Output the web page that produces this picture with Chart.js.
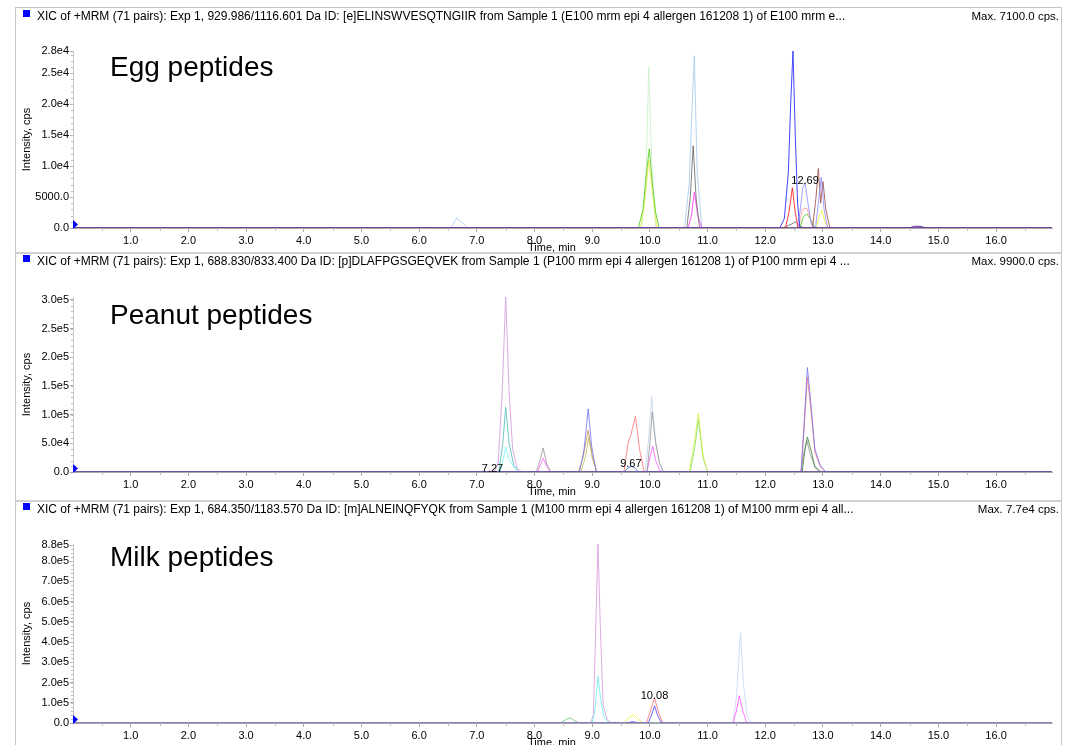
<!DOCTYPE html>
<html>
<head>
<meta charset="utf-8">
<script src="https://cdn.jsdelivr.net/npm/chart.js@4.4.1/dist/chart.umd.min.js"></script>
<style>
  body { margin: 0; background: #fff; width: 1078px; height: 745px; overflow: hidden; }
  .panel { position: absolute; left: 0; width: 1078px; }
  canvas { display: block; }
</style>
</head>
<body>
<div class="panel" style="top:0"><canvas id="egg" width="1078" height="252"></canvas></div>
<div class="panel" style="top:252px"><canvas id="peanut" width="1078" height="248"></canvas></div>
<div class="panel" style="top:500px"><canvas id="milk" width="1078" height="245"></canvas></div>
<script>
// time axis (min)
const timeMax = 16.97;
const timeTicks = [1, 2, 3, 4, 5, 6, 7, 8, 9, 10, 11, 12, 13, 14, 15, 16];

// ---- Egg peptides: [time, cps] ----
const eggPurple  = [[0,0],[14.5,0],[14.58,300],[14.7,250],[14.78,0],[16.97,0]];
const eggBlue    = [[0,0],[12.25,0],[12.33,1500],[12.4,9000],[12.44,20000],[12.48,28600],[12.52,15000],[12.56,4000],[12.6,0],[16.97,0]];
const eggLavender= [[0,0],[12.55,0],[12.6,2500],[12.65,6500],[12.69,7300],[12.74,4000],[12.8,500],[12.87,0],[12.92,4000],[12.97,8200],[13.02,3000],[13.08,0],[16.97,0]];
const eggRed     = [[0,0],[12.35,0],[12.41,2500],[12.47,6500],[12.52,2500],[12.57,0],[16.97,0]];
const eggSalmon  = [[0,0],[12.58,0],[12.64,3000],[12.72,3200],[12.78,1500],[12.84,0],[16.97,0]];
const eggBrown   = [[0,0],[12.82,0],[12.88,5000],[12.92,9600],[12.96,4000],[13.0,7500],[13.05,3000],[13.12,0],[16.97,0]];
const eggGreen   = [[0,0],[9.8,0],[9.88,3000],[9.94,9000],[9.99,12800],[10.04,7500],[10.1,2500],[10.16,0],[12.6,0],[12.66,1800],[12.72,2300],[12.8,1200],[12.86,0],[16.97,0]];
const eggMint    = [[0,0],[9.86,0],[9.93,7000],[9.98,26000],[10.03,11000],[10.1,0],[16.97,0]];
const eggYellow  = [[0,0],[9.84,0],[9.92,5000],[9.98,11000],[10.04,6000],[10.12,0],[12.88,0],[12.94,2000],[12.98,2900],[13.04,800],[13.1,0],[16.97,0]];
const eggSky     = [[0,0],[6.55,0],[6.65,1600],[6.75,800],[6.85,0],[10.6,0],[10.68,7000],[10.73,19000],[10.77,27800],[10.82,9000],[10.9,0],[16.97,0]];
const eggGray    = [[0,0],[10.64,0],[10.7,5000],[10.75,13300],[10.8,5000],[10.86,0],[12.3,0],[12.45,600],[12.52,1000],[12.6,300],[12.68,0],[16.97,0]];
const eggMagenta = [[0,0],[10.66,0],[10.72,2000],[10.77,5800],[10.83,2000],[10.9,0],[16.97,0]];
const eggTicks   = [0, 5000, 10000, 15000, 20000, 25000, 28600];
const eggLabels  = ['0.0', '5000.0', '1.0e4', '1.5e4', '2.0e4', '2.5e4', '2.8e4'];
const eggNotes   = [[12.69, 7300]];

// ---- Peanut peptides ----
const pnutPurple = [[0,0],[7.22,0],[7.27,1500],[7.32,0],[16.97,0]];
const pnutOrchid = [[0,0],[7.3,0],[7.37,15000],[7.44,140000],[7.5,305000],[7.56,140000],[7.62,40000],[7.7,6000],[7.78,0],[16.97,0]];
const pnutTeal   = [[0,0],[7.38,0],[7.45,50000],[7.5,113000],[7.56,50000],[7.64,12000],[7.72,0],[16.97,0]];
const pnutCyan   = [[0,0],[7.4,0],[7.46,22000],[7.5,44000],[7.56,22000],[7.66,6000],[7.74,0],[16.97,0]];
const pnutGray   = [[0,0],[8.03,0],[8.1,22000],[8.15,42000],[8.21,15000],[8.28,0],[9.95,0],[10.0,50000],[10.04,105000],[10.1,50000],[10.17,15000],[10.24,0],[12.62,0],[12.66,30000],[12.72,55000],[12.78,30000],[12.86,10000],[12.98,0],[16.97,0]];
const pnutMagenta= [[0,0],[8.05,0],[8.1,12000],[8.15,24000],[8.22,8000],[8.28,0],[9.95,0],[10.0,25000],[10.05,45000],[10.1,20000],[10.18,0],[16.97,0]];
const pnutBlue   = [[0,0],[8.78,0],[8.86,40000],[8.93,110000],[8.99,45000],[9.07,0],[12.62,0],[12.67,80000],[12.73,182000],[12.79,120000],[12.86,40000],[12.95,12000],[13.05,0],[16.97,0]];
const pnutTan    = [[0,0],[8.76,0],[8.84,25000],[8.93,73000],[9.0,30000],[9.08,0],[16.97,0]];
const pnutOlive  = [[0,0],[8.8,0],[8.88,25000],[8.94,60000],[9.0,25000],[9.08,0],[16.97,0]];
const pnutRed    = [[0,0],[9.55,0],[9.62,50000],[9.67,65000],[9.75,97000],[9.82,40000],[9.9,0],[12.62,0],[12.67,70000],[12.73,165000],[12.79,110000],[12.86,35000],[12.96,8000],[13.05,0],[16.97,0]];
const pnutSteel  = [[0,0],[9.55,0],[9.62,7000],[9.67,10000],[9.73,8000],[9.8,0],[16.97,0]];
const pnutIce    = [[0,0],[9.92,0],[9.98,60000],[10.03,132000],[10.08,70000],[10.15,20000],[10.22,0],[16.97,0]];
const pnutLime   = [[0,0],[10.68,0],[10.77,50000],[10.84,102000],[10.92,30000],[11.0,0],[16.97,0]];
const pnutGreen  = [[0,0],[10.7,0],[10.78,45000],[10.84,90000],[10.92,25000],[11.0,0],[16.97,0]];
const pnutForest = [[0,0],[12.64,0],[12.69,40000],[12.73,61000],[12.8,35000],[12.86,8000],[12.95,0],[16.97,0]];
const pnutTicks  = [0, 50000, 100000, 150000, 200000, 250000, 300000];
const pnutLabels = ['0.0', '5.0e4', '1.0e5', '1.5e5', '2.0e5', '2.5e5', '3.0e5'];
const pnutNotes  = [[7.27, 1500], [9.67, 10000]];

// ---- Milk peptides ----
const milkBase   = [[0,0],[9.35,0],[9.4,3000],[9.45,0],[16.97,0]];
const milkPink   = [[0,0],[8.97,0],[9.02,40000],[9.06,450000],[9.1,885000],[9.14,480000],[9.19,90000],[9.26,15000],[9.34,0],[16.97,0]];
const milkCyan   = [[0,0],[9.0,0],[9.05,70000],[9.1,230000],[9.15,110000],[9.21,25000],[9.3,0],[16.97,0]];
const milkGreen  = [[0,0],[8.45,0],[8.55,18000],[8.62,25000],[8.7,10000],[8.78,0],[16.97,0]];
const milkYellow = [[0,0],[9.55,0],[9.64,28000],[9.72,40000],[9.8,18000],[9.88,0],[16.97,0]];
const milkRed    = [[0,0],[9.94,0],[10.01,60000],[10.08,125000],[10.14,60000],[10.22,0],[16.97,0]];
const milkBlue   = [[0,0],[9.6,0],[9.7,7000],[9.8,0],[9.97,0],[10.03,40000],[10.08,85000],[10.13,40000],[10.2,0],[16.97,0]];
const milkIce    = [[0,0],[11.44,0],[11.5,130000],[11.57,448000],[11.62,200000],[11.68,40000],[11.75,0],[16.97,0]];
const milkMagenta= [[0,0],[11.44,0],[11.5,60000],[11.55,135000],[11.61,60000],[11.68,0],[16.97,0]];
const milkTicks  = [0, 100000, 200000, 300000, 400000, 500000, 600000, 700000, 800000, 880000];
const milkLabels = ['0.0', '1.0e5', '2.0e5', '3.0e5', '4.0e5', '5.0e5', '6.0e5', '7.0e5', '8.0e5', '8.8e5'];
const milkNotes  = [[10.08, 125000]];

const FONT = '"Liberation Sans", Arial, sans-serif';

const trace = (data, color) => ({
    data: data.map(([x, y]) => ({ x, y })),
    borderColor: color,
    borderWidth: 1,
    borderJoinStyle: 'round',
    pointRadius: 0,
    tension: 0,
    fill: false
});

// frame, header, big label, peak labels, minor ticks, blue marker
const panelDecor = {
    id: 'panelDecor',
    afterDraw(chart, args, o) {
        const { ctx, chartArea: a, scales: { x, y } } = chart;
        ctx.save();
        ctx.strokeStyle = '#c4c4c4';
        ctx.lineWidth = 1;
        ctx.beginPath();
        ctx.moveTo(15.5, o.frameTop); ctx.lineTo(15.5, chart.height);
        ctx.moveTo(1061.5, o.frameTop); ctx.lineTo(1061.5, chart.height);
        ctx.stroke();
        if (o.separator) {
            ctx.fillStyle = '#d0d0d0';
            ctx.fillRect(15, 0, 1047, 2);
        } else {
            ctx.beginPath();
            ctx.moveTo(15, o.frameTop + 0.5); ctx.lineTo(1062, o.frameTop + 0.5);
            ctx.stroke();
        }

        // header
        ctx.fillStyle = '#0000ff';
        ctx.fillRect(23, o.headerY - 7, 7, 7);
        ctx.fillStyle = '#000';
        ctx.font = '12px ' + FONT;
        ctx.textBaseline = 'middle';
        ctx.textAlign = 'left';
        ctx.fillText(o.header, 37, o.headerY);
        ctx.font = '11.5px ' + FONT;
        ctx.textAlign = 'right';
        ctx.fillText(o.maxText, 1059, o.headerY);

        // big label
        ctx.textAlign = 'left';
        ctx.font = '28px ' + FONT;
        ctx.fillText(o.title, 110, o.titleY);

        // peak labels
        ctx.font = '11px ' + FONT;
        ctx.textAlign = 'center';
        ctx.textBaseline = 'alphabetic';
        o.notes.forEach(([t, v]) => {
            ctx.fillText(t.toFixed(2), x.getPixelForValue(t), y.getPixelForValue(v) + 1);
        });

        // x title
        ctx.textBaseline = 'middle';
        ctx.fillText('Time, min', 552, a.bottom + 20);

        // minor ticks
        ctx.strokeStyle = '#bcbcbc';
        ctx.beginPath();
        for (let t = 0.5; t < timeMax; t += 1) {
            const px = Math.round(x.getPixelForValue(t)) + 0.5;
            ctx.moveTo(px, a.bottom); ctx.lineTo(px, a.bottom + 3);
        }
        for (let v = o.yMinor; v < y.max; v += o.yMinor) {
            const py = Math.round(y.getPixelForValue(v)) + 0.5;
            ctx.moveTo(a.left - 2, py); ctx.lineTo(a.left, py);
        }
        ctx.stroke();

        // start marker
        ctx.fillStyle = '#0000ff';
        ctx.beginPath();
        ctx.moveTo(a.left, a.bottom - 8);
        ctx.lineTo(a.left + 5, a.bottom - 3.5);
        ctx.lineTo(a.left, a.bottom + 1);
        ctx.closePath();
        ctx.fill();
        ctx.restore();
    }
};

function makeChart(id, p) {
    return new Chart(document.getElementById(id), {
        type: 'line',
        data: { datasets: p.datasets },
        options: {
            responsive: false,
            animation: false,
            events: [],
            layout: { padding: { top: p.top, right: 26, left: 0, bottom: 0 } },
            scales: {
                x: {
                    type: 'linear',
                    min: 0,
                    max: timeMax,
                    afterFit: s => { s.height = p.xHeight; },
                    afterBuildTicks: s => { s.ticks = timeTicks.map(v => ({ value: v })); },
                    ticks: {
                        callback: v => v.toFixed(1),
                        autoSkip: false,
                        maxRotation: 0,
                        padding: 2,
                        color: '#000',
                        font: { family: FONT, size: 11 }
                    },
                    grid: { drawOnChartArea: false, tickLength: 4, tickColor: '#a8a8a8' },
                    border: { color: '#a8a8a8' }
                },
                y: {
                    type: 'linear',
                    min: 0,
                    max: p.yMax,
                    afterFit: s => { s.width = 73; },
                    afterBuildTicks: s => { s.ticks = p.yTicks.map(v => ({ value: v })); },
                    ticks: {
                        callback: (v, i) => p.yLabels[i],
                        autoSkip: false,
                        padding: 1,
                        color: '#000',
                        font: { family: FONT, size: 11 }
                    },
                    grid: { drawOnChartArea: false, tickLength: 3, tickColor: '#a8a8a8' },
                    border: { color: '#c8c8c8' },
                    title: {
                        display: true,
                        text: 'Intensity, cps',
                        color: '#000',
                        font: { family: FONT, size: 11 },
                        padding: { top: 20, bottom: 0 }
                    }
                }
            },
            plugins: {
                legend: { display: false },
                tooltip: { enabled: false },
                panelDecor: p.decor
            }
        },
        plugins: [panelDecor]
    });
}

makeChart('egg', {
    top: 51, xHeight: 24, yMax: 28600, yTicks: eggTicks, yLabels: eggLabels,
    datasets: [
        trace(eggPurple, '#5a3590'),
        trace(eggBlue, 'rgba(50,50,255,0.9)'),
        trace(eggRed, 'rgba(255,40,40,0.9)'),
        trace(eggLavender, 'rgba(130,130,255,0.75)'),
        trace(eggBrown, 'rgba(160,80,80,0.85)'),
        trace(eggSalmon, 'rgba(255,150,150,0.75)'),
        trace(eggGreen, 'rgba(90,210,40,0.9)'),
        trace(eggYellow, 'rgba(235,235,60,0.8)'),
        trace(eggMint, 'rgba(205,240,205,0.9)'),
        trace(eggGray, 'rgba(100,100,100,0.8)'),
        trace(eggMagenta, 'rgba(255,60,255,0.85)'),
        trace(eggSky, 'rgba(165,205,240,0.85)')
    ],
    decor: {
        frameTop: 7, separator: false, headerY: 17, yMinor: 1000, notes: eggNotes,
        title: 'Egg peptides', titleY: 68,
        header: 'XIC of +MRM (71 pairs): Exp 1, 929.986/1116.601 Da ID: [e]ELINSWVESQTNGIIR from Sample 1 (E100 mrm epi 4 allergen 161208 1) of E100 mrm e...',
        maxText: 'Max. 7100.0 cps.'
    }
});

makeChart('peanut', {
    top: 45, xHeight: 28, yMax: 305000, yTicks: pnutTicks, yLabels: pnutLabels,
    datasets: [
        trace(pnutPurple, '#5a3590'),
        trace(pnutSteel, 'rgba(80,110,200,0.9)'),
        trace(pnutBlue, 'rgba(120,120,240,0.85)'),
        trace(pnutRed, 'rgba(255,120,120,0.85)'),
        trace(pnutForest, 'rgba(70,130,70,0.85)'),
        trace(pnutTan, 'rgba(200,150,100,0.85)'),
        trace(pnutOlive, 'rgba(190,190,90,0.85)'),
        trace(pnutGray, 'rgba(150,150,150,0.8)'),
        trace(pnutMagenta, 'rgba(255,100,255,0.85)'),
        trace(pnutLime, 'rgba(215,240,80,0.9)'),
        trace(pnutGreen, 'rgba(120,220,100,0.8)'),
        trace(pnutIce, 'rgba(200,215,240,0.9)'),
        trace(pnutCyan, 'rgba(130,250,250,0.9)'),
        trace(pnutTeal, 'rgba(90,190,190,0.85)'),
        trace(pnutOrchid, 'rgba(215,160,225,0.9)')
    ],
    decor: {
        frameTop: 0, separator: true, headerY: 10, yMinor: 10000, notes: pnutNotes,
        title: 'Peanut peptides', titleY: 64,
        header: 'XIC of +MRM (71 pairs): Exp 1, 688.830/833.400 Da ID: [p]DLAFPGSGEQVEK from Sample 1 (P100 mrm epi 4 allergen 161208 1) of P100 mrm epi 4 ...',
        maxText: 'Max. 9900.0 cps.'
    }
});

makeChart('milk', {
    top: 44, xHeight: 22, yMax: 885000, yTicks: milkTicks, yLabels: milkLabels,
    datasets: [
        trace(milkBase, 'rgba(105,120,200,1)'),
        trace(milkBlue, 'rgba(70,70,255,0.8)'),
        trace(milkRed, 'rgba(255,120,120,0.85)'),
        trace(milkYellow, 'rgba(240,240,80,0.9)'),
        trace(milkGreen, 'rgba(120,200,120,0.9)'),
        trace(milkMagenta, 'rgba(255,90,255,0.85)'),
        trace(milkIce, 'rgba(205,220,250,0.95)'),
        trace(milkCyan, 'rgba(120,240,240,0.9)'),
        trace(milkPink, 'rgba(220,160,225,0.9)')
    ],
    decor: {
        frameTop: 0, separator: true, headerY: 10, yMinor: 20000, notes: milkNotes,
        title: 'Milk peptides', titleY: 58,
        header: 'XIC of +MRM (71 pairs): Exp 1, 684.350/1183.570 Da ID: [m]ALNEINQFYQK from Sample 1 (M100 mrm epi 4 allergen 161208 1) of M100 mrm epi 4 all...',
        maxText: 'Max. 7.7e4 cps.'
    }
});
</script>
</body>
</html>
